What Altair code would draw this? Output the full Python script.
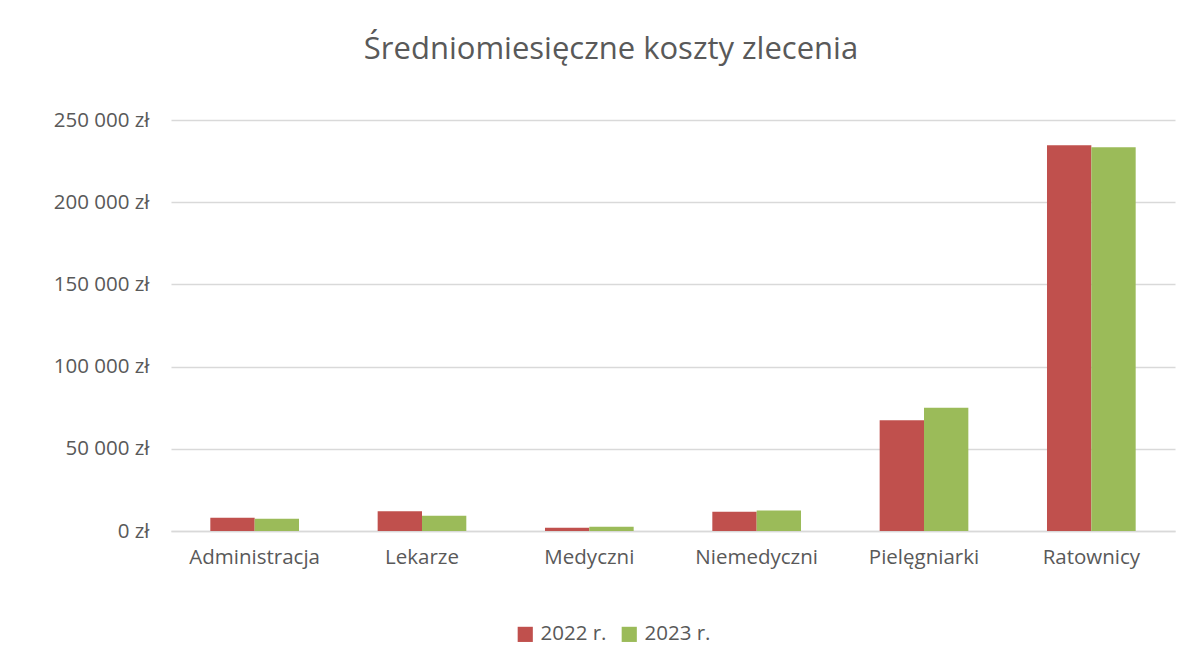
import altair as alt
import pandas as pd

categories = ["Administracja", "Lekarze", "Medyczni", "Niemedyczni", "Pielęgniarki", "Ratownicy"]
series = ["2022 r.", "2023 r."]
values_2022 = [8100, 12000, 2000, 11700, 67300, 234600]
values_2023 = [7500, 9300, 2600, 12400, 75000, 233400]
colors = ["#C0504D", "#9BBB59"]

rows = []
for c, a, b in zip(categories, values_2022, values_2023):
    rows.append({"kategoria": c, "rok": series[0], "koszt": a})
    rows.append({"kategoria": c, "rok": series[1], "koszt": b})
df = pd.DataFrame(rows)

FONT = "Open Sans"
GREY = "#595959"

chart = alt.Chart(df).mark_bar().encode(
    x=alt.X("kategoria:N", sort=categories, title=None,
            scale=alt.Scale(paddingInner=0.47, paddingOuter=0.235),
            axis=alt.Axis(labelAngle=0, labelFontSize=20.5, labelColor=GREY, labelFont=FONT,
                          domainColor="#D9D9D9", domainWidth=1.5, ticks=False, labelPadding=16)),
    xOffset=alt.XOffset("rok:N", sort=series),
    y=alt.Y("koszt:Q", title=None,
            scale=alt.Scale(domain=[0, 250000], nice=False),
            axis=alt.Axis(values=[0, 50000, 100000, 150000, 200000, 250000],
                          labelExpr="replace(format(datum.value, ',.0f'), ',', ' ') + ' zł'",
                          labelFontSize=20.5, labelColor=GREY, labelFont=FONT,
                          domain=False, ticks=False, labelPadding=22,
                          gridColor="#D9D9D9", gridWidth=1.3)),
    color=alt.Color("rok:N", sort=series, scale=alt.Scale(domain=series, range=colors),
                    legend=alt.Legend(title=None, orient="none", direction="horizontal",
                                      legendX=344, legendY=504,
                                      symbolType="square", symbolSize=230,
                                      labelFontSize=20.5, labelColor=GREY, labelFont=FONT,
                                      columnPadding=12, labelOffset=5)),
).properties(
    width=1004,
    height=411,
    title=alt.TitleParams("Średniomiesięczne koszty zlecenia", fontSize=31, font=FONT,
                          fontWeight="normal", color=GREY, anchor="middle", offset=44, dx=-62),
    autosize=alt.AutoSizeParams(type="none"),
    padding={"left": 163, "top": 112, "right": 13, "bottom": 125},
).configure_view(stroke=None)

chart.save("out.html", embed_options={"renderer": "svg", "actions": False})
